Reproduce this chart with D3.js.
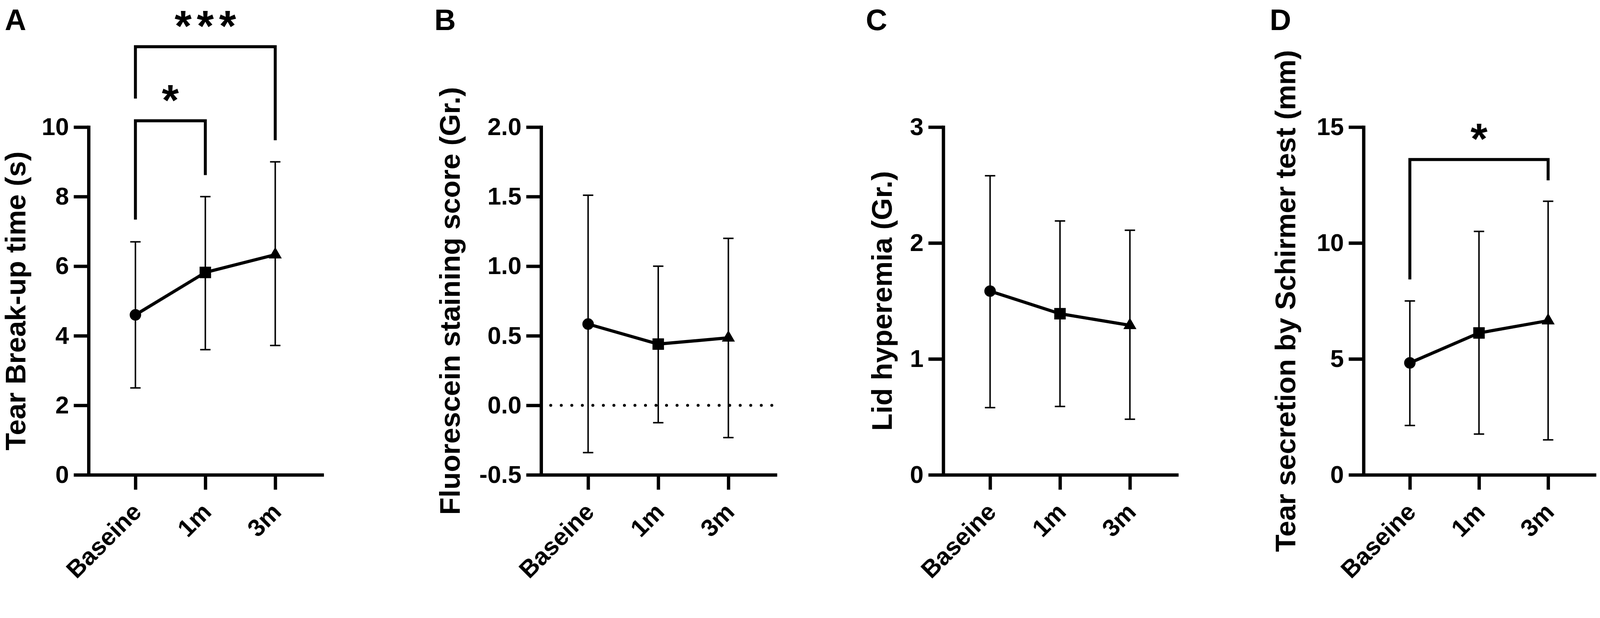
<!DOCTYPE html>
<html>
<head>
<meta charset="utf-8">
<style>
  html, body { margin: 0; padding: 0; width: 100%; height: 100%; overflow: hidden; background: #fff; }
  #chart { display: block; width: 100vw; height: 100vh; }
  svg text { font-family: "Liberation Sans", Arial, sans-serif; font-weight: bold; fill: #000; }
</style>
</head>
<body>
<script src="https://d3js.org/d3.v7.min.js"></script>
<svg id="chart" viewBox="0 0 4317 1583" preserveAspectRatio="xMinYMin meet"></svg>
<script>
// categories shared by all four panels
const categories = ["Baseine", "1m", "3m"]

// A: tear break-up time
const tbutMean = [4.6, 5.82, 6.33]
const tbutLow  = [2.5, 3.6, 3.72]
const tbutHigh = [6.7, 8.0, 9.0]
const tbutTicks = [0, 2, 4, 6, 8, 10]

// B: fluorescein staining
const fluoMean = [0.584, 0.44, 0.485]
const fluoLow  = [-0.34, -0.125, -0.232]
const fluoHigh = [1.51, 1.0, 1.2]
const fluoTicks = [-0.5, 0, 0.5, 1.0, 1.5, 2.0]

// C: lid hyperemia
const lidMean = [1.585, 1.39, 1.29]
const lidLow  = [0.58, 0.59, 0.48]
const lidHigh = [2.58, 2.19, 2.11]
const lidTicks = [0, 1, 2, 3]

// D: schirmer test
const schMean = [4.83, 6.12, 6.65]
const schLow  = [2.13, 1.76, 1.51]
const schHigh = [7.5, 10.5, 11.8]
const schTicks = [0, 5, 10, 15]

// significance brackets (from, to, bracket top, leg ends, stars) in data units
const tbutSig = [
    {from: 0, to: 1, top: 10.18, leftEnd: 7.34, rightEnd: 8.62, stars: 1},
    {from: 0, to: 2, top: 12.31, leftEnd: 10.82, rightEnd: 9.62, stars: 3}
]
const schSig = [
    {from: 0, to: 2, top: 13.6, leftEnd: 8.43, rightEnd: 12.7, stars: 1}
]

const panels = [
    {letter: "A", title: "Tear Break-up time (s)", mean: tbutMean, low: tbutLow, high: tbutHigh,
     ticks: tbutTicks, fmt: d => d, sig: tbutSig, x0: 239, x1: 869, letterX: 13, titleX: 68},
    {letter: "B", title: "Fluorescein staining score (Gr.)", mean: fluoMean, low: fluoLow, high: fluoHigh,
     ticks: fluoTicks, fmt: d => d.toFixed(1), sig: [], zeroLine: true, x0: 1460, x1: 2092, letterX: 1172, titleX: 1240},
    {letter: "C", title: "Lid hyperemia (Gr.)", mean: lidMean, low: lidLow, high: lidHigh,
     ticks: lidTicks, fmt: d => d, sig: [], x0: 2545, x1: 3175, letterX: 2336, titleX: 2406},
    {letter: "D", title: "Tear secretion by Schirmer test (mm)", mean: schMean, low: schLow, high: schHigh,
     ticks: schTicks, fmt: d => d, sig: schSig, x0: 3679, x1: 4302, letterX: 3426, titleX: 3495}
]

const svg = d3.select("#chart")
const yTop = 343, yBottom = 1282
const symbols = [d3.symbolCircle, d3.symbolSquare, d3.symbolTriangle]
const symbolSizes = [755, 961, 540]

panels.forEach(p => {
    const g = svg.append("g")

    const xScale = d3.scalePoint().domain(categories).range([p.x0, p.x1]).padding(0.67)
    const yScale = d3.scaleLinear()
        .domain([p.ticks[0], p.ticks[p.ticks.length - 1]])
        .range([yBottom, yTop])

    // panel letter
    g.append("text").attr("x", p.letterX).attr("y", 81)
        .style("font-size", "80px").text(p.letter)

    // y axis title
    g.append("text")
        .attr("transform", `translate(${p.titleX},${(yTop + yBottom) / 2}) rotate(-90)`)
        .attr("text-anchor", "middle")
        .style("font-size", "77px")
        .text(p.title)

    // dotted zero line
    if (p.zeroLine) {
        g.append("line")
            .attr("x1", p.x0 + 26).attr("x2", p.x1)
            .attr("y1", yScale(0)).attr("y2", yScale(0))
            .attr("stroke", "#000").attr("stroke-width", 8)
            .attr("stroke-linecap", "round").attr("stroke-dasharray", "0,28.4")
    }

    // axes
    const yAxis = d3.axisLeft(yScale).tickValues(p.ticks).tickFormat(p.fmt)
        .tickSize(40).tickSizeOuter(0).tickPadding(13)
    const yG = g.append("g").attr("transform", `translate(${p.x0},0)`).call(yAxis)

    const xAxis = d3.axisBottom(xScale).tickSize(40).tickSizeOuter(0).tickFormat("")
    const xG = g.append("g").attr("transform", `translate(0,${yBottom})`).call(xAxis)

    ;[yG, xG].forEach(ax => {
        ax.select(".domain").attr("stroke-width", 9).attr("stroke-linecap", "square")
        ax.selectAll(".tick line").attr("stroke-width", 9)
    })
    yG.selectAll(".tick text").style("font-size", "66px")

    // rotated category labels
    g.selectAll("text.cat")
        .data(categories)
        .enter()
        .append("text")
        .attr("class", "cat")
        .attr("text-anchor", "end")
        .attr("transform", d => `translate(${xScale(d) + 20},${yBottom + 104}) rotate(-45)`)
        .style("font-size", "66px")
        .text(d => d)

    // error bars
    const bars = g.selectAll("g.err")
        .data(categories)
        .enter()
        .append("g")
        .attr("class", "err")
        .attr("stroke", "#000")
        .attr("stroke-width", 4)
    bars.append("line")
        .attr("x1", d => xScale(d)).attr("x2", d => xScale(d))
        .attr("y1", (d, i) => yScale(p.low[i])).attr("y2", (d, i) => yScale(p.high[i]))
    bars.append("line")
        .attr("x1", d => xScale(d) - 14).attr("x2", d => xScale(d) + 14)
        .attr("y1", (d, i) => yScale(p.low[i])).attr("y2", (d, i) => yScale(p.low[i]))
    bars.append("line")
        .attr("x1", d => xScale(d) - 14).attr("x2", d => xScale(d) + 14)
        .attr("y1", (d, i) => yScale(p.high[i])).attr("y2", (d, i) => yScale(p.high[i]))

    // mean line
    const meanLine = d3.line()
        .x((d, i) => xScale(categories[i]))
        .y(d => yScale(d))
    g.append("path")
        .attr("d", meanLine(p.mean))
        .attr("fill", "none")
        .attr("stroke", "#000")
        .attr("stroke-width", 8.5)

    // markers
    g.selectAll("path.marker")
        .data(p.mean)
        .enter()
        .append("path")
        .attr("class", "marker")
        .attr("d", (d, i) => d3.symbol().type(symbols[i]).size(symbolSizes[i])())
        .attr("transform", (d, i) => `translate(${xScale(categories[i])},${yScale(d)})`)
        .attr("fill", "#000")

    // significance brackets
    p.sig.forEach(s => {
        const xa = xScale(categories[s.from]), xb = xScale(categories[s.to])
        g.append("path")
            .attr("d", `M${xa},${yScale(s.leftEnd)}V${yScale(s.top)}H${xb}V${yScale(s.rightEnd)}`)
            .attr("fill", "none")
            .attr("stroke", "#000")
            .attr("stroke-width", 8)
        const cx = (xa + xb) / 2
        d3.range(s.stars).forEach(k => {
            g.append("text")
                .attr("x", cx + (k - (s.stars - 1) / 2) * 60)
                .attr("y", yScale(s.top) - 15)
                .attr("text-anchor", "middle")
                .style("font-size", "118px")
                .text("*")
        })
    })
})
</script>
</body>
</html>
